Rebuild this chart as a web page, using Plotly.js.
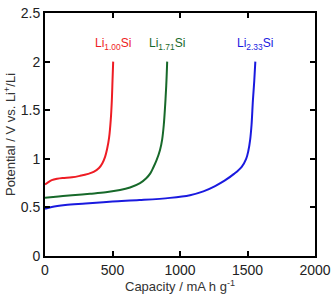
<!DOCTYPE html>
<html>
<head>
<meta charset="utf-8">
<script src="https://cdn.plot.ly/plotly-3.0.1.min.js"></script>
<style>html,body{margin:0;padding:0;background:#fff;}#chart{width:335px;height:297px;}</style>
</head>
<body>
<div id="chart"></div>
<script>
// Galvanostatic delithiation curves for three Li–Si compositions
const capLi100 = [0, 20, 50, 90, 130, 200, 260, 320, 360, 400, 425, 445, 460, 475, 487, 495, 500, 505];
const vLi100   = [0.735, 0.755, 0.78, 0.795, 0.803, 0.81, 0.825, 0.845, 0.865, 0.905, 0.955, 1.02, 1.1, 1.22, 1.4, 1.6, 1.8, 2.0];

const capLi171 = [0, 100, 200, 333, 450, 556, 630, 704, 750, 780, 802, 825, 852, 868, 880, 890, 898, 905];
const vLi171   = [0.598, 0.612, 0.625, 0.64, 0.655, 0.678, 0.705, 0.75, 0.8, 0.85, 0.91, 0.98, 1.09, 1.2, 1.35, 1.55, 1.75, 2.0];

const capLi233 = [0, 50, 150, 300, 500, 700, 926, 1074, 1173, 1260, 1330, 1400, 1457, 1490, 1506, 1520, 1530, 1540, 1550, 1558];
const vLi233   = [0.485, 0.505, 0.525, 0.54, 0.56, 0.575, 0.598, 0.626, 0.665, 0.72, 0.775, 0.845, 0.918, 1.0, 1.08, 1.2, 1.35, 1.6, 1.8, 2.0];

const seriesNames  = ['Li<sub>1.00</sub>Si', 'Li<sub>1.71</sub>Si', 'Li<sub>2.33</sub>Si'];
const seriesColors = ['#ee1c24', '#17692a', '#1a1adf'];
const labelX = [505, 906, 1558];
const labelY = [2.18, 2.18, 2.18];

const xs = [capLi100, capLi171, capLi233];
const ys = [vLi100, vLi171, vLi233];

const traces = xs.map((x, i) => ({
  x: x, y: ys[i], type: 'scatter', mode: 'lines',
  line: {color: seriesColors[i], width: 2, shape: 'spline', smoothing: 1},
  name: seriesNames[i], hoverinfo: 'skip'
}));

const annotations = seriesNames.map((t, i) => ({
  x: labelX[i], y: labelY[i], xref: 'x', yref: 'y', text: t, showarrow: false,
  font: {family: 'Liberation Sans, Arial, sans-serif', size: 12, color: seriesColors[i]},
  xanchor: 'center', yanchor: 'middle'
}));

const axisCommon = {
  showgrid: false, zeroline: false, showline: true, linecolor: '#000', linewidth: 2,
  mirror: 'ticks', ticks: 'inside', ticklen: 5, tickwidth: 2, tickcolor: '#000',
  tickfont: {family: 'Liberation Sans, Arial, sans-serif', size: 14, color: '#222'}
};

const layout = {
  width: 335, height: 297,
  margin: {l: 45, r: 20, t: 13, b: 41},
  paper_bgcolor: '#fff', plot_bgcolor: '#fff',
  showlegend: false,
  xaxis: Object.assign({}, axisCommon, {
    range: [0, 2000], tickvals: [0, 500, 1000, 1500, 2000],
    title: {text: 'Capacity / mA h g<sup>-1</sup>', standoff: 4,
      font: {family: 'Liberation Sans, Arial, sans-serif', size: 13, color: '#333'}}
  }),
  yaxis: Object.assign({}, axisCommon, {
    range: [0, 2.5], tickvals: [0, 0.5, 1, 1.5, 2, 2.5],
    title: {text: 'Potential / V vs. Li<sup>+</sup>/Li', standoff: 2,
      font: {family: 'Liberation Sans, Arial, sans-serif', size: 13, color: '#333'}}
  }),
  annotations: annotations
};

Plotly.newPlot('chart', traces, layout, {staticPlot: true, displayModeBar: false});
</script>
</body>
</html>
